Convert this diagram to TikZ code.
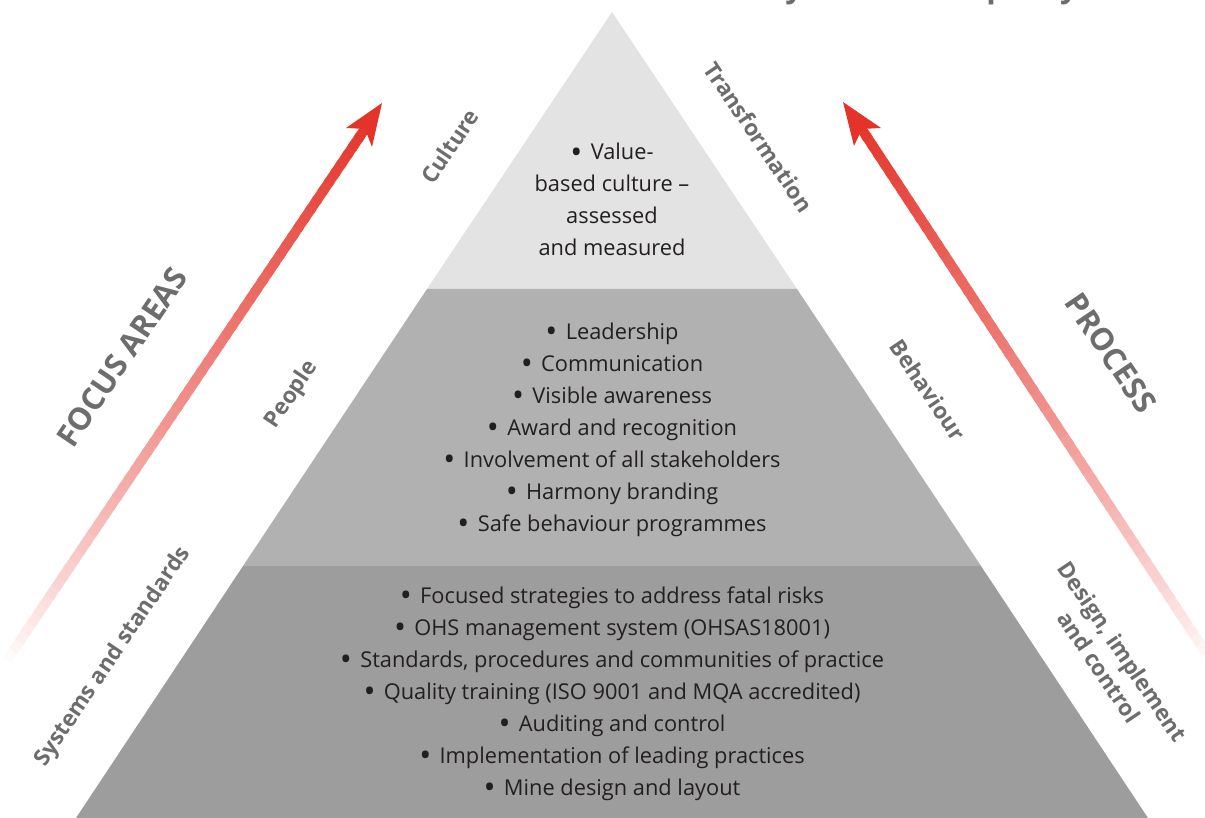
\documentclass[tikz,border=0pt]{standalone}
\usepackage{fontspec}
\setmainfont{Open Sans}
\usetikzlibrary{calc}
\definecolor{tiertop}{HTML}{E3E3E3}
\definecolor{tiermid}{HTML}{B1B1B1}
\definecolor{tierbase}{HTML}{9D9D9D}
\definecolor{arrowred}{HTML}{E4342A}
\definecolor{labelgrey}{HTML}{6D6D6D}
\definecolor{bodyink}{HTML}{231F20}
% list bullet, slightly larger than the text
\newcommand\itemdot{\raisebox{-0.18em}{\fontsize{32}{32}\selectfont •}\hspace{0.38em}}

\begin{document}
\begin{tikzpicture}[x=1pt,y=-1pt,
  tierbody/.style={align=center, font=\fontsize{21.8}{32}\selectfont, text=bodyink, inner sep=0pt},
  sidelabel/.style={font=\fontsize{22.5}{28}\selectfont\bfseries, text=labelgrey, inner sep=0pt, align=center},
  headline/.style={font=\fontsize{31}{36}\selectfont\bfseries, text=labelgrey, inner sep=0pt},
  shaft/.style={line width=10pt},
]
\useasboundingbox (0,0) rectangle (1205,818);
\clip (0,0) rectangle (1205,818);

% title line, running off the top edge
\node[headline, anchor=base east] (title) at (1078,-2) {Safety and health policy};

% pyramid tiers
\coordinate (apex) at (612,12);
\coordinate (l1) at (427,289);
\coordinate (r1) at (797,289);
\coordinate (l2) at (243,566);
\coordinate (r2) at (981,566);
\coordinate (l3) at (76,818);
\coordinate (r3) at (1148,818);
\fill[tiertop] (apex) -- (r1) -- (l1) -- cycle;
\fill[tiermid] (l1) -- (r1) -- (r2) -- (l2) -- cycle;
\fill[tierbase] (l2) -- (r2) -- (r3) -- (l3) -- cycle;

% left arrow: fading shaft and barbed head
\coordinate (ltail) at (7,660);
\coordinate (ltip) at (382,103);
\coordinate (lbarbA) at (346,128);
\coordinate (lbarbB) at (372,147);
\coordinate (lnotch) at (365,129);
\coordinate (lend) at ($(lnotch)!0.3!(ltip)$);
% right arrow
\coordinate (rtail) at (1212,662);
\coordinate (rtip) at (843,102);
\coordinate (rbarbA) at (881,128);
\coordinate (rbarbB) at (854,146);
\coordinate (rnotch) at (862,129);
\coordinate (rend) at ($(rnotch)!0.3!(rtip)$);

\foreach \i in {0,...,59}{
  \pgfmathsetmacro\pa{\i/60}
  \pgfmathsetmacro\pb{(\i+1.4)/60}
  \pgfmathtruncatemacro\mix{100*((\i+0.5)/60)^0.8}
  \draw[shaft, color=arrowred!\mix!white] ($(ltail)!\pa!(lend)$) -- ($(ltail)!\pb!(lend)$);
  \draw[shaft, color=arrowred!\mix!white] ($(rtail)!\pa!(rend)$) -- ($(rtail)!\pb!(rend)$);
}
\fill[arrowred] (ltip) -- (lbarbA) -- (lnotch) -- (lbarbB) -- cycle;
\fill[arrowred] (rtip) -- (rbarbA) -- (rnotch) -- (rbarbB) -- cycle;

% headings beside the arrows
\node[headline, rotate=56] (focus) at (122,357) {FOCUS AREAS};
\node[headline, rotate=-56] (process) at (1111,353) {PROCESS};

% tier labels
\node[sidelabel, rotate=56] (culture) at (450,146) {Culture};
\node[sidelabel, rotate=56] (people) at (292,395) {People};
\node[sidelabel, rotate=56] (systems) at (113,657) {Systems and standards};
\node[sidelabel, rotate=-56] (transf) at (759,137) {Transformation};
\node[sidelabel, rotate=-56] (behav) at (928,390) {Behaviour};
\node[sidelabel, rotate=-56] (design) at (1111,659) {Design, implement\\and control};

% tier contents (anchored at the baseline of the last line)
\node[tierbody, anchor=base] (topitems) at (612,256)
  {\itemdot Value-\\based culture –\\assessed\\and measured};
\node[tierbody, anchor=base] (miditems) at (612,531)
  {\itemdot Leadership\\
   \itemdot Communication\\
   \itemdot Visible awareness\\
   \itemdot Award and recognition\\
   \itemdot Involvement of all stakeholders\\
   \itemdot Harmony branding\\
   \itemdot Safe behaviour programmes};
\node[tierbody, anchor=base] (baseitems) at (612,795)
  {\itemdot Focused strategies to address fatal risks\\
   \itemdot OHS management system (OHSAS18001)\\
   \itemdot Standards, procedures and communities of practice\\
   \itemdot Quality training (ISO 9001 and MQA accredited)\\
   \itemdot Auditing and control\\
   \itemdot Implementation of leading practices\\
   \itemdot Mine design and layout};
\end{tikzpicture}
\end{document}
